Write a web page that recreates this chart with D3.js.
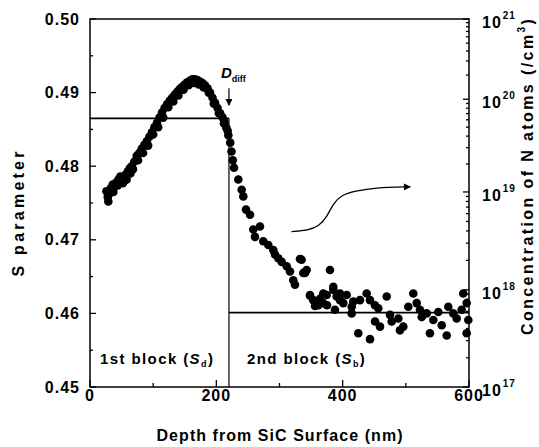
<!DOCTYPE html>
<html>
<head>
<meta charset="utf-8">
<script src="https://cdn.jsdelivr.net/npm/d3@7"></script>
<style>
  body { margin: 0; background: #fff; }
  svg text { font-family: 'Liberation Sans', Arial, sans-serif; font-weight: bold; fill: #000; }
</style>
</head>
<body>
<div id="chart"></div>
<script>
// S parameter vs depth
const depth = [
  26, 28, 30, 33, 36, 39, 42, 45, 48, 51, 54, 57, 60, 63, 66, 70, 74, 78, 82, 86,
  90, 94, 98, 102, 106, 110, 114, 118, 122, 126, 130, 134, 138, 142, 146, 150, 154, 158, 162, 166,
  170, 174, 178, 182, 186, 190, 194, 198, 202, 206, 210, 213, 216, 219, 222, 224, 226, 228,
  29, 37, 44, 52, 58, 64, 68, 76, 84, 92, 100, 108, 116, 124, 132, 140, 148, 156, 164, 172,
  180, 188, 196, 204, 212, 218,
  234.8, 240.1, 242.7, 247.0, 253.3, 258.5, 261.2, 269.1, 274.3, 282.3, 290.2, 292.9, 298.1, 303.5,
  311.4, 316.6, 321.8, 324.5, 332.4, 335.0, 337.7, 340.4, 343.0, 348.3, 348.3, 353.5, 356.2, 361.4,
  364.1, 369.3, 369.3, 374.7, 375.2, 379.9, 385.2, 385.2, 387.8, 390.5, 395.8, 395.8, 401.0, 406.4,
  414.3, 414.3, 416.8, 424.7, 427.4, 438.0, 443.3, 443.3, 451.2, 451.2, 456.4, 459.1, 469.7, 474.9,
  477.6, 488.1, 490.7, 496.0, 503.9, 511.8, 517.2, 522.4, 525.1, 533.0, 538.2, 543.5, 551.4, 556.8,
  564.7, 567.2, 575.1, 580.5, 588.4, 590.9, 596.3, 596.3, 598.9,
];
const sParam = [
  0.4766, 0.4758, 0.4762, 0.4770, 0.4775, 0.4772, 0.4778, 0.4782, 0.4786, 0.4784, 0.4780, 0.4789, 0.4793, 0.4797, 0.4800, 0.4806, 0.4814, 0.4818, 0.4824, 0.4829,
  0.4834, 0.4840, 0.4846, 0.4853, 0.4859, 0.4866, 0.4873, 0.4879, 0.4884, 0.4889, 0.4893, 0.4897, 0.4901, 0.4905, 0.4908, 0.4911, 0.4914, 0.4916, 0.4918, 0.4918,
  0.4917, 0.4915, 0.4913, 0.4910, 0.4906, 0.4900, 0.4893, 0.4886, 0.4879, 0.4872, 0.4866, 0.4860, 0.4852, 0.4842, 0.4832, 0.4820, 0.4808, 0.4798,
  0.4752, 0.4765, 0.4774, 0.4777, 0.4782, 0.4790, 0.4796, 0.4808, 0.4818, 0.4828, 0.4843, 0.4853, 0.4866, 0.4880, 0.4888, 0.4896, 0.4904, 0.4910, 0.4913, 0.4911,
  0.4907, 0.4900, 0.4885, 0.4872, 0.4858, 0.4848,
  0.4782, 0.4768, 0.4759, 0.4741, 0.4734, 0.4714, 0.4704, 0.4718, 0.4698, 0.4693, 0.4686, 0.4680, 0.4675, 0.4670,
  0.4664, 0.4657, 0.4645, 0.4639, 0.4674, 0.4673, 0.4655, 0.4655, 0.4659, 0.4625, 0.4624, 0.4618, 0.4610, 0.4611,
  0.4620, 0.4627, 0.4614, 0.4625, 0.4611, 0.4659, 0.4636, 0.4632, 0.4605, 0.4623, 0.4627, 0.4618, 0.4614, 0.4625,
  0.4600, 0.4609, 0.4616, 0.4573, 0.4618, 0.4627, 0.4618, 0.4565, 0.4611, 0.4589, 0.4607, 0.4582, 0.4623, 0.4598,
  0.4589, 0.4593, 0.4577, 0.4582, 0.4609, 0.4627, 0.4614, 0.4605, 0.4595, 0.4600, 0.4573, 0.4591, 0.4602, 0.4584,
  0.4570, 0.4609, 0.4600, 0.4593, 0.4605, 0.4627, 0.4614, 0.4573, 0.4591,
];

// block model
const dDiff = 220;
const sFirstBlock = 0.4865;
const sSecondBlock = 0.4601;

// curved arrow pointing to the right axis (depth, S)
const arrowDepth = [319, 345, 362, 375, 385, 398, 420, 450, 507];
const arrowS = [0.4711, 0.4713, 0.4718, 0.4731, 0.4749, 0.4761, 0.4766, 0.4771, 0.4772];

const xTicks = [0, 200, 400, 600];
const xMinor = [100, 300, 500];
const yTicks = [0.45, 0.46, 0.47, 0.48, 0.49, 0.50];
const yMinor = [0.455, 0.465, 0.475, 0.485, 0.495];
const concDecades = [1e17, 1e18, 1e19, 1e20, 1e21];
// the printed right axis is not evenly spaced: S level at which each decade sits
const concOnS = [0.45, 0.4632, 0.4765, 0.4891, 0.50];

const width = 539;
const height = 447;
const margin = { t: 19, r: 70, b: 60, l: 90 };

const svg = d3
  .select('#chart')
  .append('svg')
  .attr('width', width)
  .attr('height', height);

const x = d3.scaleLinear().domain([0, 600]).range([margin.l, width - margin.r]);
const y = d3.scaleLinear().domain([0.45, 0.5]).range([height - margin.b, margin.t]);
const yRight = d3.scaleLog().domain(concDecades).range(concOnS.map(y));

const x0 = x(0);
const x1 = x(600);
const y0 = y(0.45);
const y1 = y(0.5);

// frame
svg
  .append('rect')
  .attr('x', x0)
  .attr('y', y1)
  .attr('width', x1 - x0)
  .attr('height', y0 - y1)
  .attr('fill', 'none')
  .attr('stroke', '#000')
  .attr('stroke-width', 1.5);

// inward ticks
const ticks = svg.append('g').attr('stroke', '#000').attr('stroke-width', 1.3);
ticks.selectAll('.xt').data(xTicks).join('line')
  .attr('x1', (d) => x(d)).attr('x2', (d) => x(d))
  .attr('y1', y0).attr('y2', y0 - 7);
ticks.selectAll('.xm').data(xMinor).join('line')
  .attr('x1', (d) => x(d)).attr('x2', (d) => x(d))
  .attr('y1', y0).attr('y2', y0 - 4);
ticks.selectAll('.yt').data(yTicks).join('line')
  .attr('x1', x0).attr('x2', x0 + 6)
  .attr('y1', (d) => y(d)).attr('y2', (d) => y(d));
ticks.selectAll('.ym').data(yMinor).join('line')
  .attr('x1', x0).attr('x2', x0 + 3)
  .attr('y1', (d) => y(d)).attr('y2', (d) => y(d));

const logMinor = [];
concDecades.slice(0, -1).forEach((dec) => {
  for (let m = 2; m <= 9; m += 1) logMinor.push(dec * m);
});
ticks.selectAll('.rt').data(concDecades).join('line')
  .attr('x1', x1).attr('x2', x1 - 6)
  .attr('y1', (d) => yRight(d)).attr('y2', (d) => yRight(d));
ticks.selectAll('.rm').data(logMinor).join('line')
  .attr('x1', x1).attr('x2', x1 - 3)
  .attr('y1', (d) => yRight(d)).attr('y2', (d) => yRight(d));

// tick labels
const labels = svg.append('g').attr('font-size', 16).attr('letter-spacing', 1);
labels.selectAll('.xl').data(xTicks).join('text')
  .attr('x', (d) => x(d))
  .attr('y', y0 + 14)
  .attr('text-anchor', 'middle')
  .text((d) => d);
labels.selectAll('.yl').data(yTicks).join('text')
  .attr('x', x0 - 10)
  .attr('y', (d) => y(d) + 5.5)
  .attr('text-anchor', 'end')
  .text((d) => d3.format('.2f')(d));
const rl = labels.selectAll('.rl').data(concDecades).join('text')
  .attr('x', x1 + 13)
  .attr('y', (d) => yRight(d) + 9);
rl.append('tspan').text('10');
rl.append('tspan')
  .attr('font-size', 10)
  .attr('dy', -9)
  .attr('dx', 1)
  .text((d) => Math.round(Math.log10(d)));

// block lines
const blocks = svg.append('g').attr('stroke', '#000').attr('fill', 'none');
blocks.append('line')
  .attr('x1', x0).attr('x2', x(dDiff))
  .attr('y1', y(sFirstBlock)).attr('y2', y(sFirstBlock))
  .attr('stroke-width', 1.6);
blocks.append('line')
  .attr('x1', x(dDiff)).attr('x2', x1)
  .attr('y1', y(sSecondBlock)).attr('y2', y(sSecondBlock))
  .attr('stroke-width', 1.6);
blocks.append('line')
  .attr('x1', x(dDiff)).attr('x2', x(dDiff))
  .attr('y1', y(sFirstBlock)).attr('y2', y0)
  .attr('stroke-width', 1.2);

// data points
svg
  .append('g')
  .selectAll('circle')
  .data(depth)
  .join('circle')
  .attr('cx', (d) => x(d))
  .attr('cy', (d, i) => y(sParam[i]))
  .attr('r', 4.3)
  .attr('fill', '#000');

// arrowheads
const defs = svg.append('defs');
defs.append('marker')
  .attr('id', 'head')
  .attr('viewBox', '0 0 10 10')
  .attr('refX', 9)
  .attr('refY', 5)
  .attr('markerWidth', 10)
  .attr('markerHeight', 7)
  .attr('markerUnits', 'userSpaceOnUse')
  .attr('orient', 'auto')
  .append('path')
  .attr('d', 'M0,0L10,5L0,10z')
  .attr('fill', '#000');

const arrowLine = d3
  .line()
  .x((d) => x(d))
  .y((d, i) => y(arrowS[i]))
  .curve(d3.curveBasis);
svg.append('path')
  .attr('d', arrowLine(arrowDepth))
  .attr('fill', 'none')
  .attr('stroke', '#000')
  .attr('stroke-width', 1.3)
  .attr('marker-end', 'url(#head)');

// D_diff marker
svg.append('line')
  .attr('x1', x(dDiff)).attr('x2', x(dDiff))
  .attr('y1', y(sFirstBlock) - 30).attr('y2', y(sFirstBlock) - 13)
  .attr('stroke', '#000')
  .attr('stroke-width', 1.2)
  .attr('marker-end', 'url(#head)');
const dLabel = svg.append('text')
  .attr('x', x(dDiff) - 8)
  .attr('y', y(sFirstBlock) - 40)
  .attr('font-size', 15);
dLabel.append('tspan').attr('font-style', 'italic').text('D');
dLabel.append('tspan').attr('font-size', 9).attr('dy', 4).text('diff');

// block labels
const b1 = svg.append('text')
  .attr('x', x0 + 10)
  .attr('y', y0 - 23)
  .attr('font-size', 15)
  .attr('letter-spacing', 1.4);
b1.append('tspan').text('1st block (');
b1.append('tspan').attr('font-style', 'italic').text('S');
b1.append('tspan').attr('font-size', 9).attr('dy', 3).text('d');
b1.append('tspan').attr('dy', -3).text(')');

const b2 = svg.append('text')
  .attr('x', x(dDiff) + 18)
  .attr('y', y0 - 23)
  .attr('font-size', 15)
  .attr('letter-spacing', 1.4);
b2.append('tspan').text('2nd block (');
b2.append('tspan').attr('font-style', 'italic').text('S');
b2.append('tspan').attr('font-size', 9).attr('dy', 3).text('b');
b2.append('tspan').attr('dy', -3).text(')');

// axis titles
svg.append('text')
  .attr('transform', 'translate(24,214) rotate(-90)')
  .attr('text-anchor', 'middle')
  .attr('font-size', 16)
  .attr('textLength', 125)
  .attr('lengthAdjust', 'spacing')
  .text('S parameter');

svg.append('text')
  .attr('x', (x0 + x1) / 2)
  .attr('y', 441)
  .attr('text-anchor', 'middle')
  .attr('font-size', 16)
  .attr('textLength', 246)
  .attr('lengthAdjust', 'spacing')
  .text('Depth from SiC Surface (nm)');

const rTitle = svg.append('text')
  .attr('transform', 'translate(533,335) rotate(-90)')
  .attr('font-size', 16)
  .attr('letter-spacing', 2.4);
rTitle.append('tspan').text('Concentration of N atoms (/cm');
rTitle.append('tspan').attr('font-size', 10).attr('dy', -8).text('3');
rTitle.append('tspan').attr('dy', 8).text(')');
</script>
</body>
</html>
